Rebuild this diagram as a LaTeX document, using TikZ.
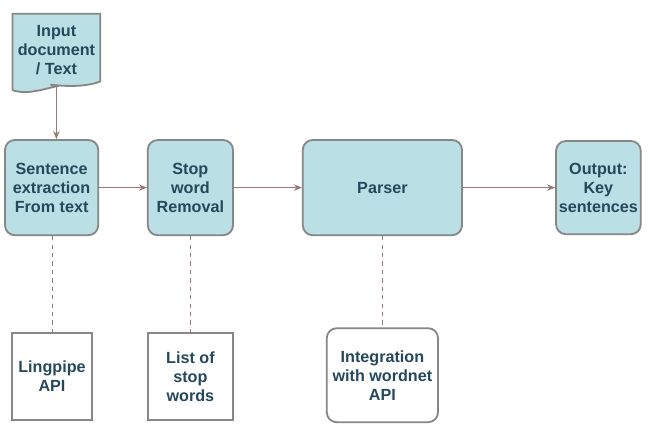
\documentclass[tikz,border=0pt]{standalone}
\usepackage{fontspec}
\setmainfont{Liberation Sans}
\usepackage{xcolor}
\definecolor{boxteal}{RGB}{186,223,228}
\definecolor{edgegray}{RGB}{135,135,135}
\definecolor{inkteal}{RGB}{38,72,92}
\definecolor{linkbrown}{RGB}{150,122,120}
\usepackage{tikz}
\usetikzlibrary{positioning, arrows.meta, calc, backgrounds}
\tikzset{
  stage/.style    = {rectangle, rounded corners=7pt, draw=edgegray, line width=1.3pt, fill=boxteal, align=center, inner sep=2pt, font=\bfseries\fontsize{11.5}{13.5}\selectfont, text=inkteal},
  tool/.style     = {rectangle, draw=edgegray, line width=1.3pt, fill=white, align=center, inner sep=2pt, font=\bfseries\fontsize{11.5}{13.5}\selectfont, text=inkteal},
  doc/.style      = {rectangle, inner sep=0pt, align=center, font=\bfseries\fontsize{11.5}{13.5}\selectfont, text=inkteal},
  flow/.style     = {-{Stealth[length=2mm, width=1.6mm]}, line width=0.8pt, draw=linkbrown},
  uses/.style     = {dashed, line width=0.6pt, draw=linkbrown},
}

\begin{document}
\begin{tikzpicture}[x=1cm, y=1cm]
    \useasboundingbox (0,0) rectangle (16.275,-10.625);

    % input document (wavy bottom)
    \node[doc, minimum width=2.18cm, minimum height=1.8cm] (inp) at (1.41,-1.25) {Input\\document\\/ Text};
    \begin{scope}[on background layer]
      \draw[edgegray, line width=1.3pt, fill=boxteal]
        ($(inp.south west)+(0,-0.1)$) -- (inp.north west) -- (inp.north east)
        -- ($(inp.south east)+(0,0.12)$)
        .. controls ($(inp.south)+(0.5,-0.12)$) and ($(inp.south)+(-0.5,0.12)$) .. (inp.south)
        .. controls ($(inp.south)+(-0.5,-0.12)$) and ($(inp.south west)+(0.35,-0.2)$) .. ($(inp.south west)+(0,-0.1)$);
    \end{scope}

    % processing stages
    \node[stage, minimum width=2.33cm, minimum height=2.38cm] (sent) at (1.29,-4.69) {Sentence\\extraction\\From text};
    \node[stage, minimum width=2.13cm, minimum height=2.38cm] (stop) at (4.76,-4.69) {Stop\\word\\Removal};
    \node[stage, minimum width=3.98cm, minimum height=2.38cm] (pars) at (9.56,-4.69) {Parser};
    \node[stage, minimum width=2.08cm, minimum height=2.33cm] (outp) at (14.96,-4.69) {Output:\\Key\\sentences};

    % supporting resources
    \node[tool, minimum width=2.0cm, minimum height=2.18cm] (ling) at (1.3,-9.41) {Lingpipe\\API};
    \node[tool, minimum width=2.13cm, minimum height=2.18cm] (list) at (4.76,-9.41) {List of\\stop\\words};
    \node[tool, rounded corners=7pt, minimum width=2.78cm, minimum height=2.35cm] (integ) at (9.56,-9.38) {Integration\\with wordnet\\API};

    % main flow
    \draw[flow] (inp.south) -- (sent.north -| inp.south);
    \draw[flow] (sent) -- (stop);
    \draw[flow] (stop) -- (pars);
    \draw[flow] (pars) -- (outp);

    % resource links
    \draw[uses] (sent.south -| ling.north) -- (ling.north);
    \draw[uses] (stop) -- (list);
    \draw[uses] (pars) -- (integ);
\end{tikzpicture}
\end{document}
